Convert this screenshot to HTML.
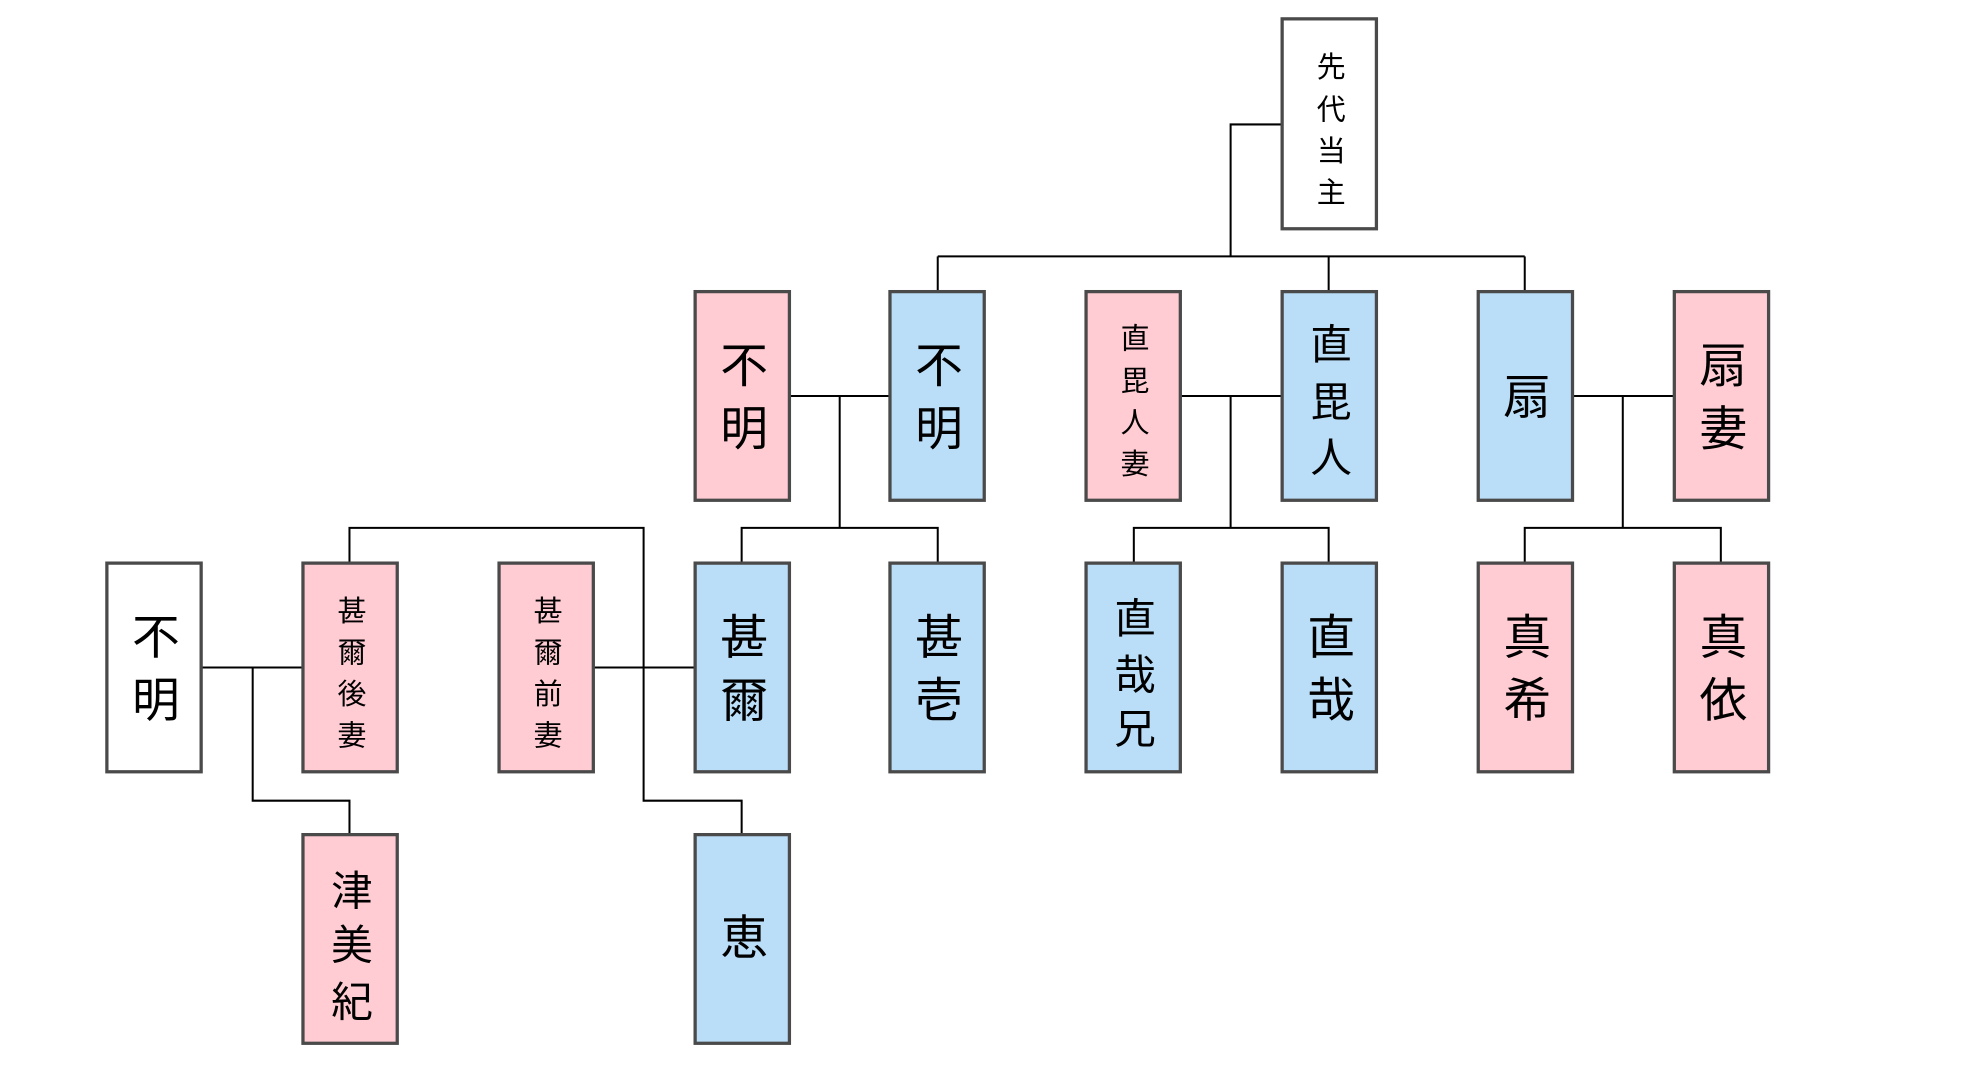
<!DOCTYPE html>
<html><head><meta charset="utf-8"><style>
html,body{margin:0;padding:0;background:#fff;}
svg{display:block;}
text{font-family:"Liberation Sans","Noto Sans CJK JP",sans-serif;fill:#000;text-anchor:middle;dominant-baseline:central;}
.b{stroke:#4a4a4a;stroke-width:2.6;}
.l{stroke:#000;stroke-width:1.6;fill:none;}
</style></head><body>
<svg width="1971" height="1082" viewBox="0 0 1568 860.8">
<g class="l">
<polyline points="1020,99 979,99 979,204"/>
<line x1="746" y1="204" x2="1213" y2="204"/>
<line x1="746" y1="204" x2="746" y2="232"/>
<line x1="1057" y1="204" x2="1057" y2="232"/>
<line x1="1213" y1="204" x2="1213" y2="232"/>
<line x1="628" y1="315" x2="708" y2="315"/>
<line x1="668" y1="315" x2="668" y2="420"/>
<polyline points="590,448 590,420 746,420 746,448"/>
<line x1="939" y1="315" x2="1020" y2="315"/>
<line x1="979" y1="315" x2="979" y2="420"/>
<polyline points="902,448 902,420 1057,420 1057,448"/>
<line x1="1251" y1="315" x2="1332" y2="315"/>
<line x1="1291" y1="315" x2="1291" y2="420"/>
<polyline points="1213,448 1213,420 1369,420 1369,448"/>
<line x1="160" y1="531" x2="241" y2="531"/>
<polyline points="201,531 201,637 278,637 278,664"/>
<line x1="472" y1="531" x2="553" y2="531"/>
<polyline points="278,448 278,420 512,420 512,637 590,637 590,664"/>
</g>
<g class="b">
<rect x="1020" y="15" width="75" height="167" fill="#fff"/>
<rect x="553" y="232" width="75" height="166" fill="#ffccd3"/>
<rect x="708" y="232" width="75" height="166" fill="#bbdef8"/>
<rect x="864" y="232" width="75" height="166" fill="#ffccd3"/>
<rect x="1020" y="232" width="75" height="166" fill="#bbdef8"/>
<rect x="1176" y="232" width="75" height="166" fill="#bbdef8"/>
<rect x="1332" y="232" width="75" height="166" fill="#ffccd3"/>
<rect x="85" y="448" width="75" height="166" fill="#fff"/>
<rect x="241" y="448" width="75" height="166" fill="#ffccd3"/>
<rect x="397" y="448" width="75" height="166" fill="#ffccd3"/>
<rect x="553" y="448" width="75" height="166" fill="#bbdef8"/>
<rect x="708" y="448" width="75" height="166" fill="#bbdef8"/>
<rect x="864" y="448" width="75" height="166" fill="#bbdef8"/>
<rect x="1020" y="448" width="75" height="166" fill="#bbdef8"/>
<rect x="1176" y="448" width="75" height="166" fill="#ffccd3"/>
<rect x="1332" y="448" width="75" height="166" fill="#ffccd3"/>
<rect x="241" y="664" width="75" height="166" fill="#ffccd3"/>
<rect x="553" y="664" width="75" height="166" fill="#bbdef8"/>
</g>
<g transform="translate(1.5,2)">
<g font-size="23">
<text x="1057.5" y="52">先</text><text x="1057.5" y="86">代</text><text x="1057.5" y="119">当</text><text x="1057.5" y="152">主</text>
<text x="901.5" y="268">直</text><text x="901.5" y="302">毘</text><text x="901.5" y="335">人</text><text x="901.5" y="368">妻</text>
<text x="278.5" y="485">甚</text><text x="278.5" y="518">爾</text><text x="278.5" y="551">後</text><text x="278.5" y="584">妻</text>
<text x="434.5" y="485">甚</text><text x="434.5" y="518">爾</text><text x="434.5" y="551">前</text><text x="434.5" y="584">妻</text>
</g>
<g font-size="38">
<text x="590.5" y="290">不</text><text x="590.5" y="340">明</text>
<text x="745.5" y="290">不</text><text x="745.5" y="340">明</text>
<text x="1369.5" y="290">扇</text><text x="1369.5" y="340">妻</text>
<text x="1213.5" y="315">扇</text>
<text x="122.5" y="506">不</text><text x="122.5" y="556">明</text>
<text x="590.5" y="506">甚</text><text x="590.5" y="556">爾</text>
<text x="745.5" y="506">甚</text><text x="745.5" y="556">壱</text>
<text x="1057.5" y="506">直</text><text x="1057.5" y="556">哉</text>
<text x="1213.5" y="506">真</text><text x="1213.5" y="556">希</text>
<text x="1369.5" y="506">真</text><text x="1369.5" y="556">依</text>
<text x="590.5" y="745">恵</text>
</g>
<g font-size="33">
<text x="1057.5" y="272">直</text><text x="1057.5" y="318">毘</text><text x="1057.5" y="362">人</text>
<text x="901.5" y="490">直</text><text x="901.5" y="535">哉</text><text x="901.5" y="578">兄</text>
<text x="278.5" y="707">津</text><text x="278.5" y="750">美</text><text x="278.5" y="795">紀</text>
</g>
</g>
</svg>
</body></html>
